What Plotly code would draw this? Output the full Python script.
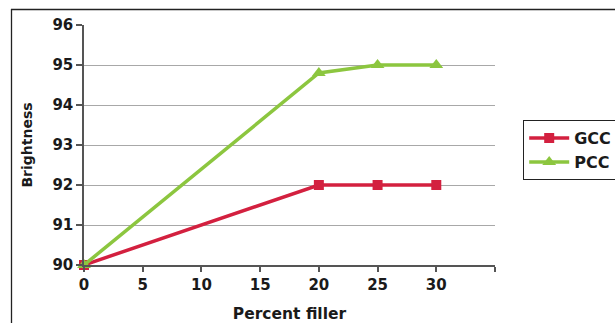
import plotly.graph_objects as go

percent_filler = [0, 20, 25, 30]
gcc_brightness = [90, 92, 92, 92]
pcc_brightness = [90, 94.8, 95, 95]
x_ticks = [0, 5, 10, 15, 20, 25, 30, 35]
x_tick_labels = ["0", "5", "10", "15", "20", "25", "30", ""]
y_ticks = [90, 91, 92, 93, 94, 95, 96]

RED = "#D3203F"
GREEN = "#8CC63F"
TICK_FONT = dict(family="DejaVu Sans", size=15, color="#1a1a1a", weight="bold")
XT_FONT = dict(family="DejaVu Sans", size=15.5, color="#1a1a1a", weight="bold")
YT_FONT = dict(family="DejaVu Sans", size=14, color="#1a1a1a", weight="bold")

fig = go.Figure()
fig.add_trace(go.Scatter(
    x=percent_filler, y=gcc_brightness, name="GCC", mode="lines+markers",
    line=dict(color=RED, width=3.5),
    marker=dict(symbol="square", size=10, color=RED),
    cliponaxis=False,
))
fig.add_trace(go.Scatter(
    x=percent_filler, y=pcc_brightness, name="PCC", mode="lines+markers",
    line=dict(color=GREEN, width=3.5),
    marker=dict(symbol="triangle-up", size=12, color=GREEN),
    cliponaxis=False,
))

W, H = 615, 323
L, R, T, B = 84, 120, 25, 58
pw, ph = W - L - R, H - T - B

def px_x(x):
    return (x - L) / pw

def px_y(y):
    return 1 - (y - T) / ph

fig.update_layout(
    width=W, height=H,
    margin=dict(l=L, r=R, t=T, b=B, autoexpand=False),
    paper_bgcolor="white", plot_bgcolor="white",
    font=TICK_FONT,
    showlegend=True,
    legend=dict(
        x=px_x(523), y=px_y(120), xanchor="left", yanchor="top",
        bordercolor="#222", borderwidth=1.2,
        font=dict(family="DejaVu Sans", size=16, color="#1a1a1a", weight="bold"),
        itemwidth=40, tracegroupgap=0,
    ),
    xaxis=dict(
        range=[0, 35], tickvals=x_ticks, ticktext=x_tick_labels,
        showgrid=False, zeroline=False, automargin=False,
        showline=True, linecolor="#555", linewidth=1.5,
        ticks="outside", ticklen=5, tickcolor="#555", tickwidth=1.5,
        tickfont=TICK_FONT,
        title=dict(text="Percent filler", font=XT_FONT, standoff=20),
    ),
    yaxis=dict(
        range=[90, 96], tickvals=y_ticks,
        showgrid=True, gridcolor="#A8A8A8", gridwidth=1.2,
        zeroline=False, automargin=False,
        showline=True, linecolor="#555", linewidth=1.5,
        ticks="outside", ticklen=6, tickcolor="#555", tickwidth=1.5,
        tickfont=TICK_FONT,
        title=dict(text="Brightness", font=YT_FONT, standoff=16),
    ),
    shapes=[
        dict(type="line", xref="paper", yref="paper",
             x0=px_x(11), x1=px_x(W + 5), y0=px_y(9.5), y1=px_y(9.5),
             line=dict(color="#222", width=1.3)),
        dict(type="line", xref="paper", yref="paper",
             x0=px_x(11.5), x1=px_x(11.5), y0=px_y(9), y1=px_y(H + 5),
             line=dict(color="#222", width=1.3)),
    ],
)

fig.write_html("out.html")
